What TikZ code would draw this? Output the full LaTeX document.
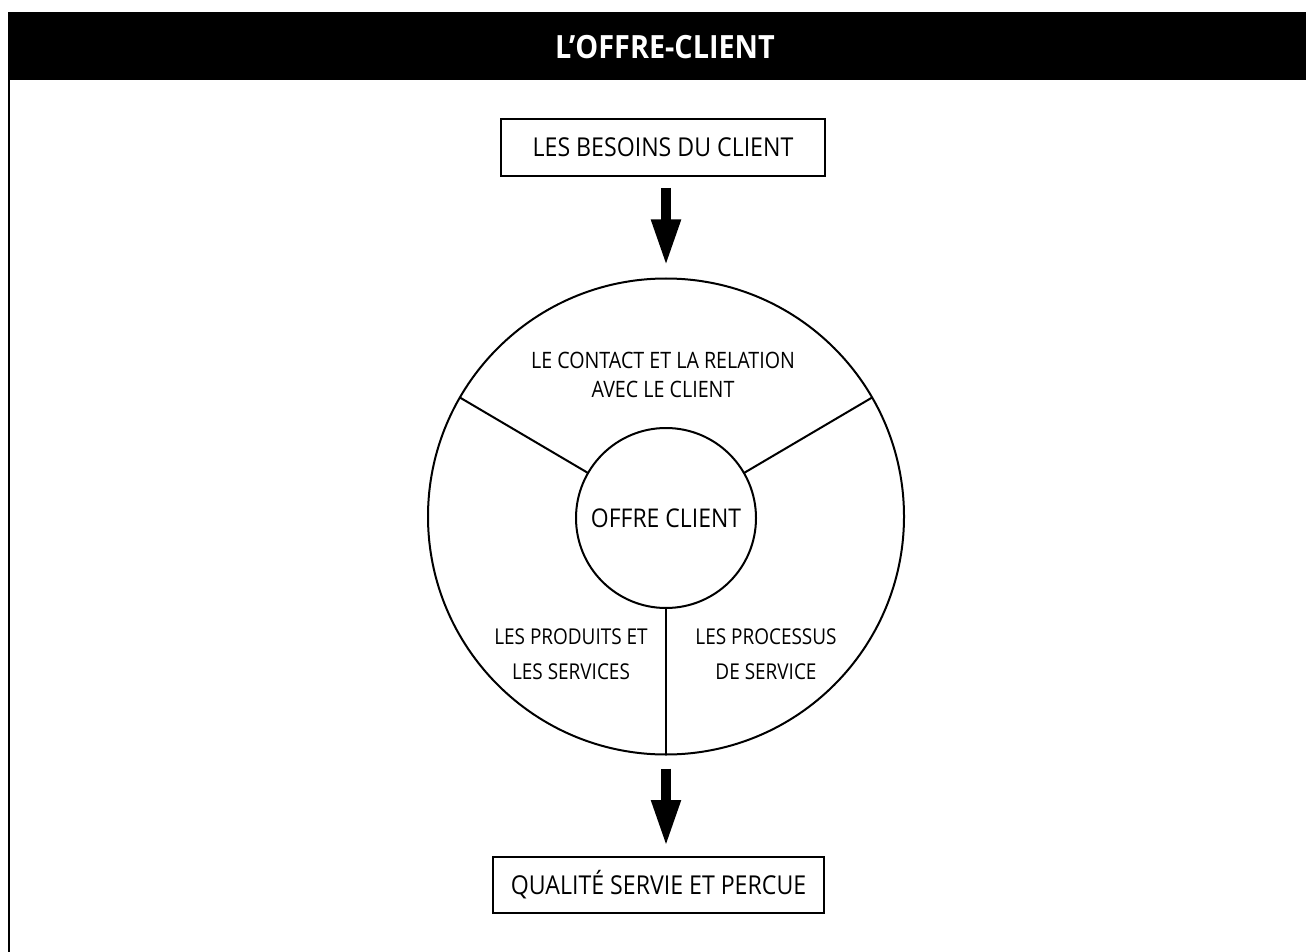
\documentclass[tikz,border=0pt]{standalone}
\usepackage{fontspec}
\setmainfont{Open Sans}
\newfontfamily\boxfont[FakeStretch=0.89]{Open Sans}
\newfontfamily\segfont[FakeStretch=0.87]{Open Sans}
\newfontfamily\headfont[FakeStretch=0.9]{Open Sans}
\usetikzlibrary{arrows.meta}
\tikzset{
  frameline/.style={line width=1pt, black},
  labelbox/.style={draw, line width=1pt, inner sep=0pt, outer sep=0pt,
    font=\boxfont\fontsize{13}{15}\selectfont},
  ring/.style={circle, draw, line width=1pt, inner sep=0pt, outer sep=0pt},
  spoke/.style={line width=1pt},
  segtext/.style={align=center, inner sep=0pt},
  flowarrow/.style={line width=5.25pt, -{Triangle[width=13.5pt,length=23.5pt]}},
}
\begin{document}
\begin{tikzpicture}[x=0.5pt,y=-0.5pt]
\useasboundingbox (0,0) rectangle (1306,952);

% title band and frame
\fill[black] (8,12) rectangle (1306,80);
\node[text=white, font=\headfont\bfseries\fontsize{16}{18}\selectfont] (title) at (665,47) {L’OFFRE-CLIENT};
\draw[frameline] (9,80) -- (9,952);

% input and output boxes
\node[labelbox, minimum width=162pt, minimum height=28.5pt] (needs) at (663,147.5) {LES BESOINS DU CLIENT};
\node[labelbox, minimum width=165.5pt, minimum height=28pt] (quality) at (658.5,885) {QUALITÉ SERVIE ET PERCUE};

% the wheel
\node[ring, minimum size=238pt] (wheel) at (666,516.5) {};
\node[ring, minimum size=90pt, font=\boxfont\fontsize{12.9}{15}\selectfont] (core) at (666,518) {OFFRE CLIENT};
\draw[spoke] (core.150) -- (wheel.150);
\draw[spoke] (core.30) -- (wheel.30);
\draw[spoke] (core.south) -- (wheel.south);

% segment labels
\node[segtext, font=\segfont\fontsize{11.3}{14.5}\selectfont] (contact) at (663,375) {LE CONTACT ET LA RELATION\\AVEC LE CLIENT};
\node[segtext, font=\segfont\fontsize{10.9}{17.5}\selectfont] (products) at (571,654) {LES PRODUITS ET\\LES SERVICES};
\node[segtext, font=\segfont\fontsize{10.9}{17.5}\selectfont] (process) at (766,654) {LES PROCESSUS\\DE SERVICE};

% flow arrows
\draw[flowarrow, shorten <=6pt, shorten >=6pt] (needs.south -| wheel.north) -- (wheel.north);
\draw[flowarrow, shorten <=7pt, shorten >=5pt] (wheel.south) -- (quality.north -| wheel.south);
\end{tikzpicture}
\end{document}
